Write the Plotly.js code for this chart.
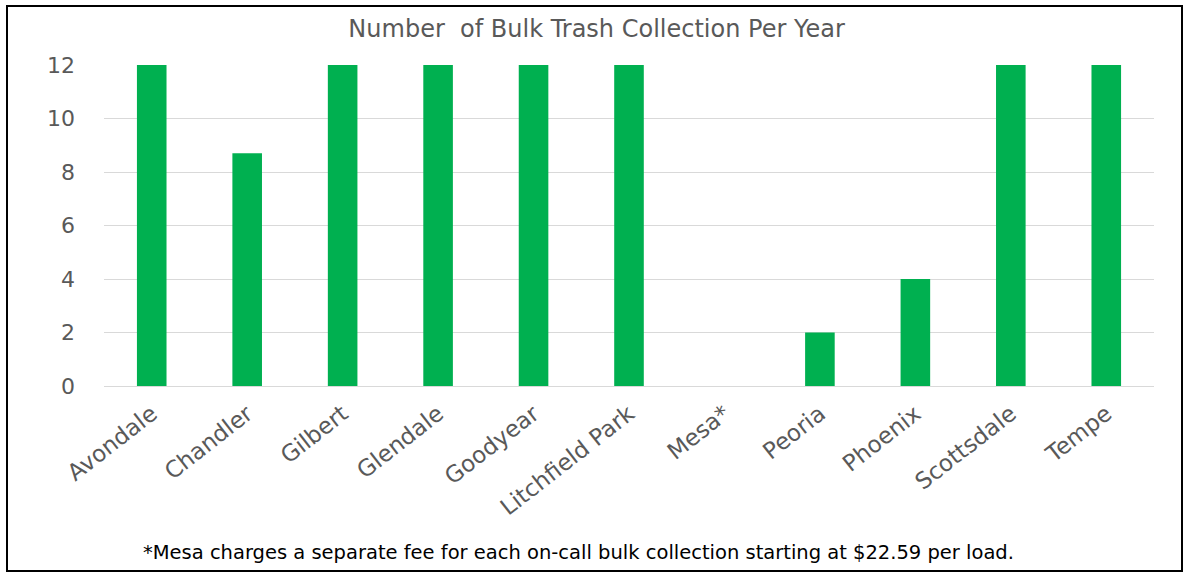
<!DOCTYPE html>
<html>
<head>
<meta charset="utf-8">
<script src="https://cdn.plot.ly/plotly-3.0.1.min.js"></script>
<style>html,body{margin:0;padding:0;background:#fff;}#chart{width:1186px;height:576px;}</style>
</head>
<body>
<div id="chart"></div>
<script>
const cities = ["Avondale","Chandler","Gilbert","Glendale","Goodyear","Litchfield Park","Mesa*","Peoria","Phoenix","Scottsdale","Tempe"];
const collectionsPerYear = [12, 8.7, 12, 12, 12, 12, 0, 2, 4, 12, 12];
const yTicks = [0, 2, 4, 6, 8, 10, 12];
const chartTitle = "Number  of Bulk Trash Collection Per Year";
const footnote = "*Mesa charges a separate fee for each on-call bulk collection starting at $22.59 per load.";

const L = 104, R = 1154, T = 65, B = 386;
const W = 1186, H = 576;
const px = x => (x - L) / (R - L);
const py = y => (B - y) / (B - T);
const font = "DejaVu Sans, sans-serif";

Plotly.newPlot("chart", [{
  type: "bar",
  x: cities,
  y: collectionsPerYear,
  marker: {color: "#00B050"},
  hoverinfo: "x+y"
}], {
  width: W, height: H,
  margin: {l: L, r: W - R, t: T, b: H - B, pad: 0},
  paper_bgcolor: "#ffffff",
  plot_bgcolor: "#ffffff",
  bargap: 0.69,
  showlegend: false,
  title: {
    text: chartTitle,
    x: 0.503, xref: "container", xanchor: "center",
    y: 1 - 29 / H, yref: "container", yanchor: "middle",
    font: {family: font, size: 24, color: "#595959"}
  },
  xaxis: {
    type: "category",
    tickangle: -38,
    tickfont: {family: font, size: 23, color: "#595959"},
    showline: false, showgrid: false, zeroline: false,
    ticks: "", automargin: false,
    ticklabelstandoff: 9
  },
  yaxis: {
    range: [0, 12],
    tickvals: yTicks,
    tickfont: {family: font, size: 22, color: "#595959"},
    showgrid: true, gridcolor: "#d9d9d9", gridwidth: 1,
    zeroline: true, zerolinecolor: "#d9d9d9", zerolinewidth: 1,
    showline: false, ticks: "", ticklen: 0, automargin: false,
    ticklabelstandoff: 28
  },
  annotations: [{
    text: footnote, showarrow: false,
    xref: "paper", yref: "paper",
    x: px(578), y: py(552), xanchor: "center", yanchor: "middle",
    font: {family: font, size: 19.5, color: "#000000"}
  }],
  shapes: [{
    type: "rect", xref: "paper", yref: "paper",
    x0: px(7), x1: px(1182), y0: py(571), y1: py(6),
    line: {color: "#000000", width: 2}, fillcolor: "rgba(0,0,0,0)", layer: "above"
  }]
}, {staticPlot: true, displayModeBar: false});
</script>
</body>
</html>
